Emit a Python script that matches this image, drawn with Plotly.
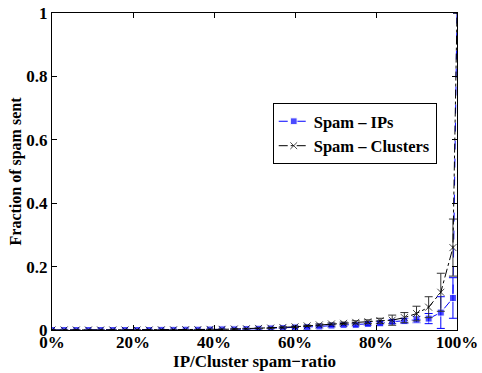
import plotly.graph_objects as go

# IP/Cluster spam-ratio (percent)
ratio = [0, 3, 6, 9, 12, 15, 18, 21, 24, 27, 30, 33, 36, 39, 42, 45, 48,
         51, 54, 57, 60, 63, 66, 69, 72, 75, 78, 81, 84, 87, 90, 93, 96, 99, 100]

# Fraction of spam sent - IPs
spam_ips = [0.000, 0.000, 0.000, 0.000, 0.000, 0.000, 0.000, 0.000, 0.000,
            0.0005, 0.0005, 0.001, 0.001, 0.0015, 0.002, 0.002, 0.003,
            0.004, 0.005, 0.006, 0.008, 0.009, 0.011, 0.014, 0.016, 0.016,
            0.019, 0.021, 0.026, 0.029, 0.033, 0.036, 0.055, 0.101, 1.0]
spam_ips_err = [0.0, 0.0, 0.0, 0.0, 0.0, 0.0, 0.0, 0.0, 0.0, 0.0, 0.0, 0.0,
                0.0005, 0.0005, 0.0005, 0.001, 0.001, 0.001, 0.001, 0.0015,
                0.002, 0.002, 0.002, 0.003, 0.003, 0.004, 0.004, 0.005,
                0.006, 0.008, 0.010, 0.016, 0.050, 0.064, 0.0]

# Fraction of spam sent - Clusters
spam_clusters = [0.000, 0.000, 0.000, 0.000, 0.000, 0.000, 0.000, 0.000,
                 0.000, 0.0005, 0.0005, 0.001, 0.001, 0.002, 0.002, 0.003,
                 0.004, 0.005, 0.006, 0.008, 0.010, 0.013, 0.016, 0.019,
                 0.021, 0.024, 0.026, 0.029, 0.031, 0.039, 0.052, 0.072,
                 0.119, 0.26, 1.0]
spam_clusters_err = [0.0, 0.0, 0.0, 0.0, 0.0, 0.0, 0.0, 0.0, 0.0, 0.0, 0.0,
                     0.0, 0.0005, 0.0005, 0.001, 0.001, 0.001, 0.001, 0.0015,
                     0.002, 0.002, 0.002, 0.003, 0.003, 0.004, 0.005, 0.006,
                     0.008, 0.016, 0.016, 0.023, 0.033, 0.060, 0.090, 0.0]

x_ticks = [0, 20, 40, 60, 80, 100]
x_tick_labels = ["0%", "20%", "40%", "60%", "80%", "100%"]
y_ticks = [0, 0.2, 0.4, 0.6, 0.8, 1]
y_tick_labels = ["0", "0.2", "0.4", "0.6", "0.8", "1"]

FONT = "Liberation Serif, Times New Roman, serif"
# hide the marker of the end point sitting on the plot corner
sq_sizes = [7] * (len(ratio) - 1) + [0]
x_sizes = [7] * (len(ratio) - 1) + [0]

fig = go.Figure()
fig.add_trace(go.Scatter(
    x=ratio, y=spam_ips, name="Spam \u2013 IPs", mode="lines+markers",
    line=dict(color="#0000ff", width=1, dash="dash"),
    marker=dict(symbol="square", size=sq_sizes, color="#0000ff"),
    error_y=dict(type="data", array=spam_ips_err, color="#0000ff",
                 thickness=1, width=4),
))
fig.add_trace(go.Scatter(
    x=ratio, y=spam_clusters, name="Spam \u2013 Clusters", mode="lines+markers",
    line=dict(color="black", width=1, dash="dashdot"),
    marker=dict(symbol="x-thin", size=x_sizes, color="black",
                line=dict(color="black", width=1)),
    error_y=dict(type="data", array=spam_clusters_err, color="#333333",
                 thickness=1, width=4),
))

axis_common = dict(
    showline=True, linecolor="black", linewidth=1, mirror="ticks",
    ticks="inside", ticklen=5, tickcolor="black", showgrid=False,
    zeroline=False, ticklabeloverflow="allow",
    tickfont=dict(family=FONT, size=17, color="black", weight="bold"),
)

fig.update_layout(
    width=482, height=373,
    margin=dict(l=52, r=16, t=4, b=43),
    paper_bgcolor="white", plot_bgcolor="white",
    font=dict(family=FONT, color="black", weight="bold"),
    xaxis=dict(range=[0, 100], tickvals=x_ticks, ticktext=x_tick_labels,
               ticklabelstandoff=-3,
               title=dict(text="IP/Cluster spam\u2212ratio", standoff=0,
                          font=dict(family=FONT, size=17, weight="bold")),
               **axis_common),
    yaxis=dict(range=[0, 1], tickvals=y_ticks, ticktext=y_tick_labels,
               title=dict(text="Fraction of spam sent", standoff=0,
                          font=dict(family=FONT, size=16, weight="bold")),
               **axis_common),
    legend=dict(x=0.545, y=0.716, xanchor="left", yanchor="top",
                bgcolor="white", bordercolor="black", borderwidth=1,
                font=dict(family=FONT, size=16.5, weight="bold"),
                tracegroupgap=0, itemwidth=30),
    showlegend=True,
)

fig.write_html("out.html")
